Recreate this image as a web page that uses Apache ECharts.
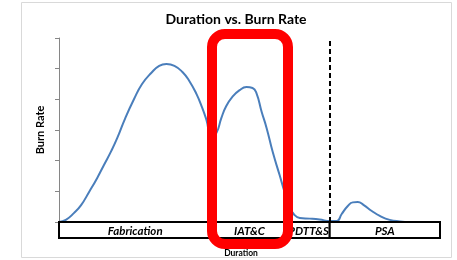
<!DOCTYPE html>
<html>
<head>
<meta charset="utf-8">
<script src="https://cdn.jsdelivr.net/npm/echarts@6/dist/echarts.min.js"></script>
<style>
  html, body { margin: 0; padding: 0; background: #fff; }
  #chart { width: 457px; height: 260px; }
</style>
</head>
<body>
<div id="chart"></div>
<script>
"use strict";

//
// Data (duration in arbitrary units 0..100, burn rate 0..6)
//
const duration = [0, 1.8, 3.9, 5.8, 7.9, 10, 11.8, 13.7, 15.3, 17.4, 19.7, 21.8, 24.2, 26.3, 28.2, 30.3, 32.4, 34.2, 36.1, 37.6, 38.7, 40, 41.3, 42.6, 43.9, 45.5, 47.4, 49.2, 50.8, 51.8, 53.2, 54.5, 56.1, 57.9, 59.2, 60.5, 61.8, 63.2, 65.8, 68.4, 71.1, 72.9, 74.2, 75.8, 77.1, 78.4, 80, 82.1, 84.2, 86.8, 89.5, 92.1];
const burn_rate = [0, 0.07, 0.29, 0.55, 0.98, 1.43, 1.86, 2.31, 2.74, 3.39, 4.01, 4.50, 4.86, 5.09, 5.15, 5.09, 4.89, 4.60, 4.17, 3.72, 3.33, 2.80, 2.90, 3.39, 3.78, 4.08, 4.30, 4.40, 4.37, 4.21, 3.59, 3.06, 2.28, 1.53, 0.98, 0.49, 0.23, 0.13, 0.11, 0.08, 0.03, 0.03, 0.26, 0.52, 0.64, 0.65, 0.55, 0.36, 0.20, 0.07, 0.02, 0];

const phase_names = ["Fabrication", "IAT&C", "PDTT&S", "PSA"];
const phase_start = [0, 40, 60, 71.05];
const phase_end = [40, 60, 71.05, 100];

const divider_at = 71.05; // dashed line between PDTT&S and PSA

const curve = duration.map((d, i) => [d, burn_rate[i]]);
const phases = phase_names.map((n, i) => [phase_start[i], phase_end[i], n]);

//
// Chart
//
const chart = echarts.init(document.getElementById("chart"));
const font = "Lato, 'Open Sans', sans-serif";

chart.setOption({
  animation: false,
  grid: [
    { left: 59, right: 17, top: 38, bottom: 38 },
    { left: 59, right: 17, top: 222, height: 16 },
  ],
  xAxis: [
    { type: "value", gridIndex: 0, min: 0, max: 100, show: false },
    { type: "value", gridIndex: 1, min: 0, max: 100, show: false },
  ],
  yAxis: [
    {
      type: "value",
      gridIndex: 0,
      min: 0,
      max: 6,
      interval: 1,
      axisLine: { show: true, lineStyle: { color: "#868686", width: 1 } },
      axisTick: { show: true, length: 4, lineStyle: { color: "#868686" } },
      axisLabel: { show: false },
      splitLine: { show: false },
    },
    { type: "value", gridIndex: 1, min: 0, max: 1, show: false },
  ],
  series: [
    {
      type: "line",
      xAxisIndex: 0,
      yAxisIndex: 0,
      data: curve,
      smooth: 0.5,
      showSymbol: false,
      lineStyle: { color: "#4a7ebb", width: 2 },
      z: 3,
      markLine: {
        silent: true,
        symbol: "none",
        label: { show: false },
        lineStyle: { color: "#000", type: [5, 3], width: 2 },
        data: [{ xAxis: divider_at }],
      },
    },
    {
      type: "custom",
      xAxisIndex: 1,
      yAxisIndex: 1,
      data: phases,
      z: 4,
      renderItem: function (params, api) {
        const p0 = api.coord([api.value(0), 1]);
        const p1 = api.coord([api.value(1), 0]);
        return {
          type: "group",
          children: [
            {
              type: "rect",
              shape: { x: p0[0], y: p0[1], width: p1[0] - p0[0], height: p1[1] - p0[1] },
              style: { fill: "#fff", stroke: "#000", lineWidth: 2 },
            },
            {
              type: "text",
              style: {
                x: (p0[0] + p1[0]) / 2,
                y: (p0[1] + p1[1]) / 2 + 1,
                text: phase_names[params.dataIndex],
                align: "center",
                verticalAlign: "middle",
                font: "italic bold 11.5px " + font,
                fill: "#000",
              },
            },
          ],
        };
      },
    },
  ],
  graphic: [
    {
      type: "rect",
      shape: { x: 21.5, y: 2.5, width: 430, height: 255 },
      style: { fill: null, stroke: "#d9d9d9", lineWidth: 1 },
      z: 0,
    },
    {
      type: "text",
      x: 236,
      y: 19,
      style: {
        text: "Duration vs. Burn Rate",
        align: "center",
        verticalAlign: "middle",
        font: "bold 14px " + font,
        fill: "#000",
      },
    },
    {
      type: "text",
      x: 40,
      y: 130,
      rotation: Math.PI / 2,
      style: {
        text: "Burn Rate",
        align: "center",
        verticalAlign: "middle",
        font: "bold 11px " + font,
        fill: "#000",
      },
    },
    {
      type: "text",
      x: 241,
      y: 253,
      style: {
        text: "Duration",
        align: "center",
        verticalAlign: "middle",
        font: "bold 8.5px " + font,
        fill: "#000",
      },
    },
    {
      type: "rect",
      shape: { x: 212, y: 34, width: 76, height: 210, r: 13 },
      style: { fill: null, stroke: "#ff0000", lineWidth: 10 },
      z: 100,
    },
  ],
});
</script>
</body>
</html>
